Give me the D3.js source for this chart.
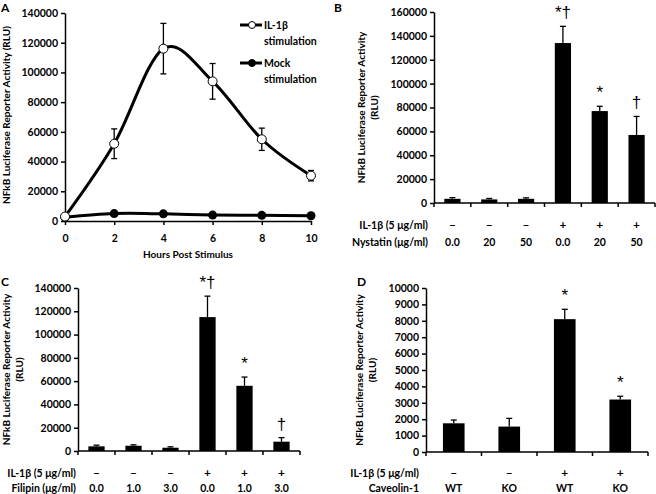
<!DOCTYPE html>
<html>
<head>
<meta charset="utf-8">
<script src="https://cdn.jsdelivr.net/npm/d3@7"></script>
<style>
  body { margin: 0; background: #fff; }
  text { font-family: Lato, "Open Sans", sans-serif; font-weight: bold; fill: #000; }
</style>
</head>
<body>
<div id="chart"></div>
<script>
// panel A: time course
var hours = [0, 2, 4, 6, 8, 10];
var ilValues = [3000, 52000, 116000, 94000, 55000, 30500];
var ilErrors = [0, 10000, 17000, 12000, 7500, 3500];
var mockValues = [2500, 5000, 4800, 4000, 3800, 3500];
var aTicks = [0, 20000, 40000, 60000, 80000, 100000, 120000, 140000];

// panel B: nystatin
var bIl = ["\u2013", "\u2013", "\u2013", "+", "+", "+"];
var bDose = ["0.0", "20", "50", "0.0", "20", "50"];
var bValues = [3500, 3000, 3500, 134000, 77000, 57000];
var bErrors = [1000, 800, 800, 14000, 4000, 15500];
var bMarks = ["", "", "", "*\u2020", "*", "\u2020"];
var bTicks = [0, 20000, 40000, 60000, 80000, 100000, 120000, 140000, 160000];

// panel C: filipin
var cIl = ["\u2013", "\u2013", "\u2013", "+", "+", "+"];
var cDose = ["0.0", "1.0", "3.0", "0.0", "1.0", "3.0"];
var cValues = [4000, 4500, 2800, 115000, 56000, 8000];
var cErrors = [1000, 800, 800, 18000, 7500, 3500];
var cMarks = ["", "", "", "*\u2020", "*", "\u2020"];
var cTicks = [0, 20000, 40000, 60000, 80000, 100000, 120000, 140000];

// panel D: caveolin-1
var dIl = ["\u2013", "\u2013", "+", "+"];
var dGeno = ["WT", "KO", "WT", "KO"];
var dValues = [1750, 1550, 8100, 3200];
var dErrors = [200, 500, 600, 200];
var dMarks = ["", "", "*", "*"];
var dTicks = [0, 1000, 2000, 3000, 4000, 5000, 6000, 7000, 8000, 9000, 10000];

var svg = d3.select("#chart").append("svg")
  .attr("width", 656)
  .attr("height", 494);

var fmt = d3.format("d");

function yAxis(y, ticks, x0) {
  var g = svg.append("g").attr("transform", "translate(" + x0 + ",0)");
  g.call(d3.axisLeft(y).tickValues(ticks).tickFormat(fmt).tickSize(4).tickSizeOuter(0).tickPadding(3));
  g.select(".domain").attr("stroke", "#000").attr("stroke-width", 1.5);
  g.selectAll(".tick line").attr("stroke", "#000").attr("stroke-width", 1.5);
  g.selectAll(".tick text").style("font-size", "10.5px").attr("font-family", null);
  return g;
}

function yTitle(lines, x, y) {
  var t = svg.append("text")
    .attr("transform", "translate(" + x + "," + y + ") rotate(-90)")
    .attr("text-anchor", "middle")
    .style("font-size", "10px");
  lines.forEach(function(l, i) {
    t.append("tspan").attr("x", 0).attr("dy", i === 0 ? 0 : 13).text(l);
  });
}

function letter(s, x, y) {
  svg.append("text").attr("x", x).attr("y", y).style("font-size", "12px").text(s);
}

// ---------- panel A ----------
(function() {
  var x = d3.scaleLinear().domain([0, 10]).range([65, 311]);
  var y = d3.scaleLinear().domain([0, 140000]).range([221, 13]);

  yAxis(y, aTicks, 65);
  var gx = svg.append("g").attr("transform", "translate(0,221)");
  gx.call(d3.axisBottom(x).tickValues(hours).tickSize(4).tickSizeOuter(0).tickPadding(10));
  gx.select(".domain").attr("stroke-width", 1.5);
  gx.selectAll(".tick line").attr("stroke-width", 1.5);
  gx.selectAll(".tick text").style("font-size", "10.5px").attr("font-family", null);

  svg.append("text").attr("x", 188).attr("y", 258).attr("text-anchor", "middle")
    .style("font-size", "10px").text("Hours Post Stimulus");
  yTitle(["NFkB Luciferase Reporter Activity (RLU)"], 10, 115);
  letter("A", 1, 12);

  var line = d3.line()
    .x(function(d, i) { return x(hours[i]); })
    .y(function(d) { return y(d); })
    .curve(d3.curveCatmullRom.alpha(0));

  // error bars
  hours.forEach(function(h, i) {
    if (!ilErrors[i]) return;
    var cx = x(h), t = y(ilValues[i] + ilErrors[i]), b = y(ilValues[i] - ilErrors[i]);
    svg.append("line").attr("x1", cx).attr("x2", cx).attr("y1", t).attr("y2", b)
      .attr("stroke", "#000").attr("stroke-width", 1.3);
    [t, b].forEach(function(yy) {
      svg.append("line").attr("x1", cx - 3).attr("x2", cx + 3).attr("y1", yy).attr("y2", yy)
        .attr("stroke", "#000").attr("stroke-width", 1.3);
    });
  });

  svg.append("path").datum(mockValues).attr("d", line)
    .attr("fill", "none").attr("stroke", "#000").attr("stroke-width", 3);
  svg.append("path").datum(ilValues).attr("d", line)
    .attr("fill", "none").attr("stroke", "#000").attr("stroke-width", 3);

  svg.selectAll("circle.mock").data(mockValues).enter().append("circle")
    .attr("class", "mock")
    .attr("cx", function(d, i) { return x(hours[i]); })
    .attr("cy", function(d) { return y(d); })
    .attr("r", 4.5).attr("fill", "#000");
  svg.selectAll("circle.il").data(ilValues).enter().append("circle")
    .attr("class", "il")
    .attr("cx", function(d, i) { return x(hours[i]); })
    .attr("cy", function(d) { return y(d); })
    .attr("r", 4.5).attr("fill", "#fff").attr("stroke", "#000").attr("stroke-width", 1);

  // legend
  [["IL-1\u03b2", "stimulation", 25, "#fff"], ["Mock", "stimulation", 63, "#000"]].forEach(function(l) {
    svg.append("line").attr("x1", 240).attr("x2", 262).attr("y1", l[2]).attr("y2", l[2])
      .attr("stroke", "#000").attr("stroke-width", 3);
    svg.append("circle").attr("cx", 252).attr("cy", l[2]).attr("r", 3.5)
      .attr("fill", l[3]).attr("stroke", "#000").attr("stroke-width", 1);
    svg.append("text").attr("x", 264).attr("y", l[2] + 3.5).style("font-size", "10.5px").text(l[0]);
    svg.append("text").attr("x", 264).attr("y", l[2] + 20).style("font-size", "10.5px").text(l[1]);
  });
})();

// ---------- bar panels ----------
function barPanel(o) {
  var x = d3.scaleBand().domain(d3.range(o.values.length)).range([o.x0, o.x1]);
  var y = d3.scaleLinear().domain([0, o.max]).range([o.y0, o.y1]);
  var bw = x.bandwidth() * o.frac;

  yAxis(y, o.ticks, o.x0);
  svg.append("line").attr("x1", o.x0).attr("x2", o.x1).attr("y1", o.y0).attr("y2", o.y0)
    .attr("stroke", "#000").attr("stroke-width", 1.5);
  d3.range(o.values.length + 1).forEach(function(i) {
    var xx = o.x0 + i * x.step();
    svg.append("line").attr("x1", xx).attr("x2", xx).attr("y1", o.y0).attr("y2", o.y0 + 4)
      .attr("stroke", "#000").attr("stroke-width", 1.5);
  });

  o.values.forEach(function(v, i) {
    var cx = x(i) + x.bandwidth() / 2;
    var top = y(v + o.errors[i]);
    svg.append("line").attr("x1", cx).attr("x2", cx).attr("y1", top).attr("y2", y(v))
      .attr("stroke", "#000").attr("stroke-width", 1.3);
    svg.append("line").attr("x1", cx - 3).attr("x2", cx + 3).attr("y1", top).attr("y2", top)
      .attr("stroke", "#000").attr("stroke-width", 1.3);
    svg.append("rect").attr("x", cx - bw / 2).attr("width", bw)
      .attr("y", y(v)).attr("height", o.y0 - y(v)).attr("fill", "#000");
    if (o.marks[i]) {
      svg.append("text").attr("x", cx).attr("y", top - 8).attr("text-anchor", "middle")
        .style("font-size", "17px").style("font-weight", "normal")
        .style("font-family", "'Liberation Sans', sans-serif").text(o.marks[i]);
    }
    svg.append("text").attr("x", cx).attr("y", o.row1 + 4).attr("text-anchor", "middle")
      .style("font-size", "12px").text(o.il[i]);
    svg.append("text").attr("x", cx).attr("y", o.row2 + 3.5).attr("text-anchor", "middle")
      .style("font-size", "10.5px").text(o.cat[i]);
  });

  svg.append("text").attr("x", o.lx).attr("y", o.row1 + 3.5).attr("text-anchor", "end")
    .style("font-size", "10.5px").text("IL-1\u03b2 (5 \u03bcg/ml)");
  svg.append("text").attr("x", o.lx).attr("y", o.row2 + 3.5).attr("text-anchor", "end")
    .style("font-size", "10.5px").text(o.label);
  yTitle(["NFkB Luciferase Reporter Activity", "(RLU)"], o.tx, (o.y0 + o.y1) / 2);
  letter(o.letter, o.letX, o.letY);
}

barPanel({ values: bValues, errors: bErrors, marks: bMarks, il: bIl, cat: bDose,
  ticks: bTicks, max: 160000, x0: 434, x1: 655, y0: 203, y1: 12, frac: 0.44,
  row1: 225, row2: 242, lx: 428, label: "Nystatin (\u03bcg/ml)", tx: 365,
  letter: "B", letX: 334, letY: 12 });

barPanel({ values: cValues, errors: cErrors, marks: cMarks, il: cIl, cat: cDose,
  ticks: cTicks, max: 140000, x0: 78, x1: 300, y0: 451, y1: 288, frac: 0.44,
  row1: 473, row2: 488, lx: 76, label: "Filipin (\u03bcg/ml)", tx: 10,
  letter: "C", letX: 1, letY: 286 });

barPanel({ values: dValues, errors: dErrors, marks: dMarks, il: dIl, cat: dGeno,
  ticks: dTicks, max: 10000, x0: 426, x1: 648, y0: 452, y1: 288, frac: 0.39,
  row1: 473, row2: 488, lx: 419, label: "Caveolin-1", tx: 363,
  letter: "D", letX: 357, letY: 286 });
</script>
</body>
</html>
